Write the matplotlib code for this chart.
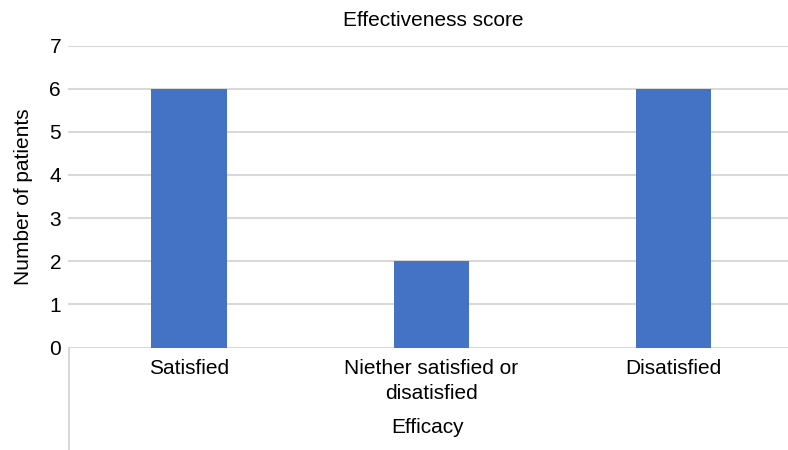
import matplotlib
matplotlib.use("Agg")
import matplotlib.pyplot as plt
from matplotlib.lines import Line2D

plt.rcParams["font.family"] = ["Liberation Sans", "DejaVu Sans"]

# Данные
categories = ["Satisfied", "Niether satisfied or\ndisatisfied", "Disatisfied"]
patients = [6, 2, 6]
y_ticks = [0, 1, 2, 3, 4, 5, 6, 7]

BLUE = "#4472C4"
GRID = "#d9d9d9"

fig = plt.figure(figsize=(7.88, 4.5), dpi=100)
ax = fig.add_axes([68 / 788, 1 - 347.5 / 450, 1 - 68 / 788, (347.5 - 45.5) / 450])

x = range(len(categories))
ax.bar(x, patients, width=0.31, color=BLUE, zorder=3)

ax.set_xlim(-0.5, 2.475)
ax.set_ylim(0, 7)
ax.set_yticks(y_ticks)
ax.set_xticks(list(x))
ax.set_xticklabels(categories, fontsize=15, linespacing=1.4)
ax.tick_params(axis="y", labelsize=15, length=0, pad=5)
ax.tick_params(axis="x", length=0, pad=8)
ax.yaxis.grid(True, color=GRID, lw=1.5, zorder=0)
for s in ax.spines.values():
    s.set_visible(False)

ax.set_ylabel("Number of patients", fontsize=15, labelpad=12)
ax.set_xlabel("Efficacy", fontsize=15, labelpad=11)

fig.text(433 / 788, 1 - 20 / 450, "Effectiveness score", fontsize=15,
         ha="center", va="center")

# рамка снизу слева, уходящая ниже оси
fig.add_artist(Line2D([68.5 / 788, 68.5 / 788], [0, 1 - 347.5 / 450],
                      transform=fig.transFigure, color=GRID, lw=1.5))

fig.savefig("out.png", dpi=100)
